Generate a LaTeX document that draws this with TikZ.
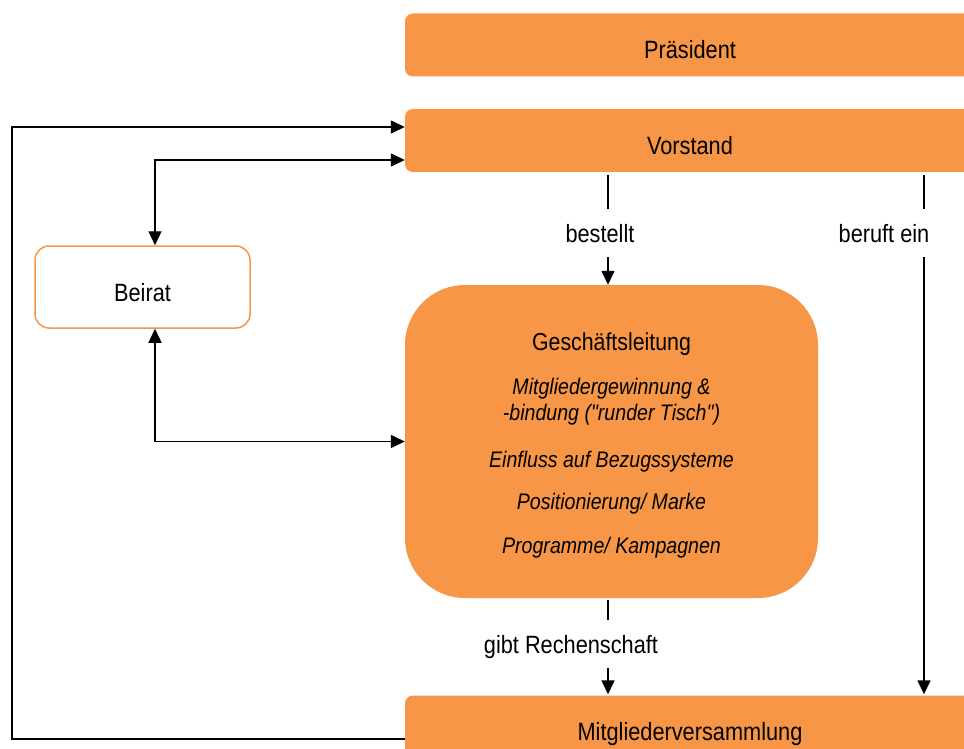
\documentclass[tikz,border=0pt]{standalone}
\usepackage{fontspec}
\setmainfont{Liberation Sans}[FakeStretch=0.87, Ligatures=TeXOff]
\usetikzlibrary{arrows.meta}
\definecolor{boxorange}{RGB}{247,150,70}
\tikzset{
  txt/.style={font=\fontsize{25}{27}\selectfont, text=black},
  bar/.style={txt, fill=boxorange, rounded corners=8pt, minimum width=570pt,
    minimum height=63pt, inner sep=0pt, text height=27pt, text depth=0pt},
  conn/.style={draw=black, line width=1.4pt,
    -{Triangle[length=14pt,width=13pt]}},
  plain/.style={draw=black, line width=1.4pt},
  both/.style={conn, {Triangle[length=14pt,width=13pt]}-{Triangle[length=14pt,width=13pt]}},
  lab/.style={txt, anchor=base, inner xsep=2pt, inner ysep=15pt,
    text height=18pt, text depth=0pt},
}
\begin{document}
\begin{tikzpicture}[x=1pt, y=-1pt]
  \useasboundingbox (0,0) rectangle (964,749);

  % main boxes
  \node[bar] (pres) at (690,45) {Präsident};
  \node[bar] (vor) at (690,140.5) {Vorstand};
  \node[bar] (mv) at (690,727) {Mitgliederversammlung};
  \node[fill=boxorange, rounded corners=60pt, minimum width=413pt,
    minimum height=313pt, inner sep=0pt] (gl) at (611.5,441.5) {};
  \node[font=\fontsize{22.5}{26}\selectfont, align=center, anchor=north,
    inner sep=0pt] (gltext) at (611.5,333)
    {{\fontsize{24.5}{26}\selectfont Geschäftsleitung}\\[18pt]
     \textit{Mitgliedergewinnung \&}\\
     \textit{-bindung ("runder Tisch")}\\[21pt]
     \textit{Einfluss auf Bezugssysteme}\\[16pt]
     \textit{Positionierung/ Marke}\\[18pt]
     \textit{Programme/ Kampagnen}};
  \node[txt, draw=boxorange, line width=1.5pt, fill=white, rounded corners=14pt,
    minimum width=215pt, minimum height=82pt, inner sep=0pt,
    text height=28pt, text depth=0pt] (beirat) at (142.5,287) {Beirat};

  % edge labels
  \node[lab] (lbest) at (600,242) {bestellt};
  \node[lab] (lberuf) at (884,242) {beruft ein};
  \node[lab] (lrech) at (571,653) {gibt Rechenschaft};

  % helper positions for the vertical runs
  \coordinate (xbest) at (608,0);
  \coordinate (xberuf) at (924,0);
  \coordinate (xbeirat) at (155,0);
  \coordinate (xloop) at (12,0);
  \coordinate (yloop) at (0,739);
  \coordinate (ytop) at (0,127);
  \coordinate (yvb) at (0,160);

  % Vorstand -> Geschaeftsleitung
  \draw[plain, shorten <=3pt] (vor.south -| xbest) -- (lbest.north -| xbest);
  \draw[conn] (lbest.south -| xbest) -- (gl.north -| xbest);

  % Vorstand -> Mitgliederversammlung
  \draw[plain, shorten <=3pt] (vor.south -| xberuf) -- (lberuf.north -| xberuf);
  \draw[conn, shorten >=1pt] (lberuf.south -| xberuf) -- (mv.north -| xberuf);

  % Geschaeftsleitung -> Mitgliederversammlung
  \draw[plain, shorten <=2pt] (gl.south -| xbest) -- (lrech.north -| xbest);
  \draw[conn, shorten >=1pt] (lrech.south -| xbest) -- (mv.north -| xbest);

  % Mitgliederversammlung -> Vorstand (outer loop)
  \draw[conn] (mv.west |- yloop) -- (xloop |- yloop) -- (xloop |- ytop) -- (vor.west |- ytop);

  % Beirat <-> Vorstand, Beirat <-> Geschaeftsleitung
  \draw[both] (beirat.north -| xbeirat) -- (xbeirat |- yvb) -- (vor.west |- yvb);
  \draw[both] (beirat.south -| xbeirat) |- (gl.west);
\end{tikzpicture}
\end{document}
